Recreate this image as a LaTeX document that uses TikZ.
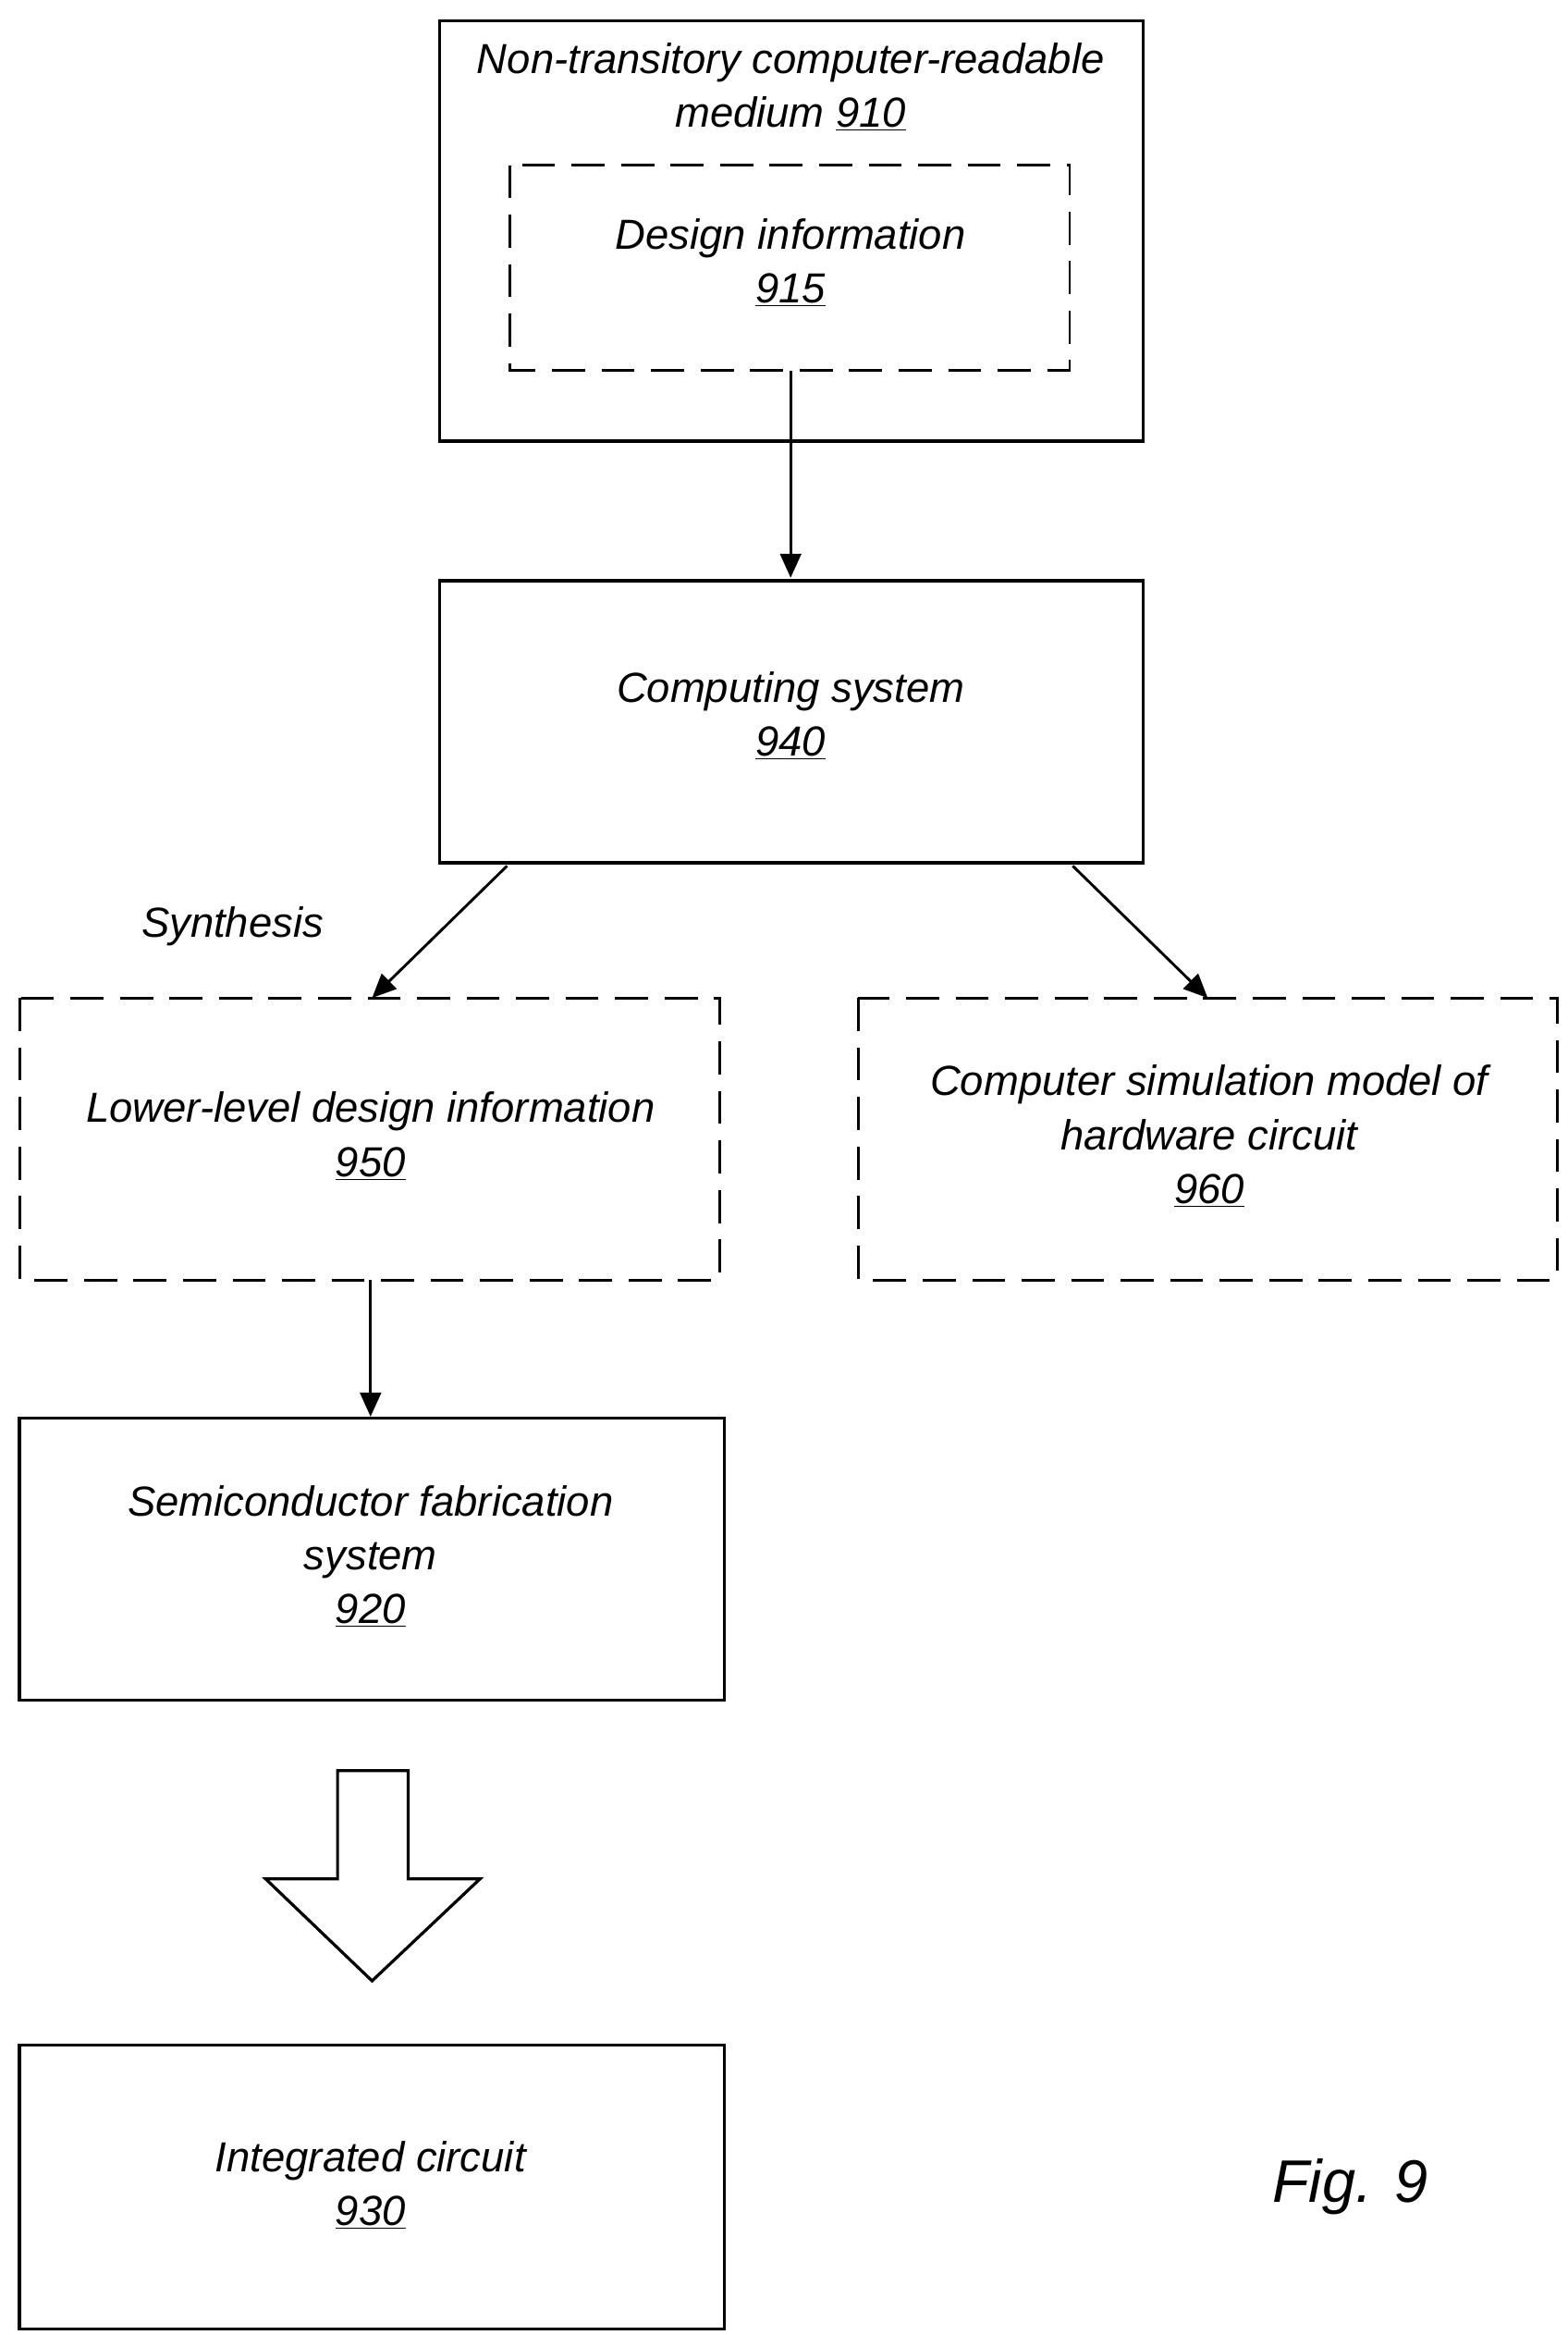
\documentclass[tikz,border=0pt]{standalone}
\usepackage{fontspec}
\setmainfont{Liberation Sans}
\usetikzlibrary{arrows.meta}
\begin{document}
\begin{tikzpicture}[x=1pt,y=-1pt,
  box/.style={draw,line width=2pt},
  dbox/.style={draw,line width=1.8pt,dash pattern=on 22pt off 11pt},
  lbl/.style={font=\fontsize{28}{36}\selectfont\itshape,align=center},
  arr/.style={line width=1.8pt,-{Triangle[length=16pt,width=14pt]}}]
\useasboundingbox (0,0) rectangle (1045,1556);
\draw[box] (293,14) rectangle (762,294);
\node[lbl] (t910) at (527,58) {Non-transitory computer-readable\\medium \underline{910}};
\draw[dbox] (340,110) rectangle (713,247);
\coordinate (b915) at (527,247);
\node[lbl] (t915) at (527,175) {Design information\\\underline{915}};
\draw[box] (293,387) rectangle (762,575);
\coordinate (t940) at (527,385);
\node[lbl] (n940) at (527,477) {Computing system\\\underline{940}};
\draw[arr] (b915) -- (t940);
\node[lbl] (syn) at (155,617) {Synthesis};
\draw[dbox] (13,665) rectangle (480,853);
\node[lbl] (n950) at (247,757) {Lower-level design information\\\underline{950}};
\draw[dbox] (572,665) rectangle (1038,853);
\node[lbl] (n960) at (806,757) {Computer simulation model of\\hardware circuit\\\underline{960}};
\coordinate (a1) at (338,577); \coordinate (a2) at (248,665);
\coordinate (a3) at (715,577); \coordinate (a4) at (805,665);
\draw[arr] (a1) -- (a2);
\draw[arr] (a3) -- (a4);
\draw[box] (13,945) rectangle (483,1133);
\node[lbl] (n920) at (247,1037) {Semiconductor fabrication\\system\\\underline{920}};
\coordinate (b950) at (247,853); \coordinate (t920) at (247,944);
\draw[arr] (b950) -- (t920);
\draw[line width=2pt,line join=miter] (225,1180) -- (272,1180) -- (272,1252) -- (320,1252) -- (248,1320) -- (177,1252) -- (225,1252) -- cycle;
\draw[box] (13,1363) rectangle (483,1552);
\node[lbl] (n930) at (247,1456) {Integrated circuit\\\underline{930}};
\node[font=\fontsize{40}{48}\selectfont\itshape] (fig) at (900,1457) {Fig. 9};
\end{tikzpicture}
\end{document}
